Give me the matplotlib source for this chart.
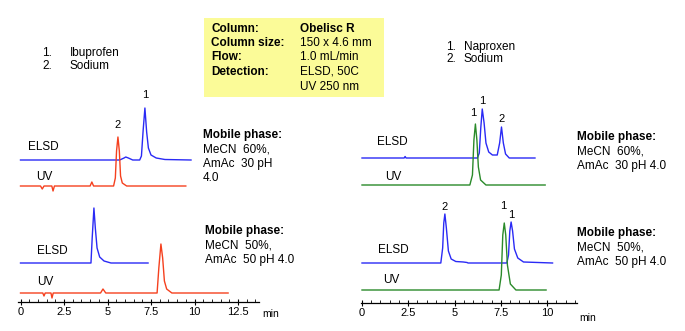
import matplotlib
matplotlib.use("Agg")
import matplotlib.pyplot as plt
from matplotlib.patches import Rectangle

plt.rcParams['font.family'] = ['Liberation Sans', 'DejaVu Sans']

W, H = 685, 331

# traces: time (min) and signal height (px above own baseline)
# ---- Ibuprofen, MeCN 60%
ibu60_elsd_t = [0, 5.7, 5.95, 6.05, 6.2, 6.45, 6.85, 6.95, 7.05, 7.15, 7.25, 7.35, 7.5, 7.8, 8.3, 9.8]
ibu60_elsd_y = [0, 0, 2, 3, 2, 0, 0, 4, 30, 52, 28, 12, 5, 2, 0.5, 0]
ibu60_uv_t = [0, 1.15, 1.25, 1.35, 1.8, 1.87, 1.95, 4.0, 4.1, 4.2, 5.35, 5.45, 5.52, 5.6, 5.68, 5.75, 5.85, 6.1, 9.5]
ibu60_uv_y = [0, 0, -3, 0, 0, -5, 0, 0, 4, 0, 0, 8, 35, 49, 35, 10, 3, 0, 0]
# ---- Ibuprofen, MeCN 50%
ibu50_elsd_t = [0, 4.05, 4.12, 4.22, 4.3, 4.4, 4.55, 4.8, 5.2, 7.33]
ibu50_elsd_y = [0, 0, 25, 55, 35, 15, 6, 2, 0, 0]
ibu50_uv_t = [0, 1.28, 1.35, 1.42, 1.75, 1.81, 1.88, 4.6, 4.74, 4.9, 7.85, 7.95, 8.07, 8.17, 8.27, 8.4, 8.7, 11.93]
ibu50_uv_y = [0, 0, -3, 0, 0, -5, 0, 0, 4, 0, 0, 25, 49, 35, 12, 4, 0, 0]
# ---- Naproxen, MeCN 60%
nap60_elsd_t = [0, 2.28, 2.33, 2.38, 6.24, 6.34, 6.42, 6.50, 6.60, 6.70, 6.85, 7.05, 7.31, 7.44, 7.54, 7.64, 7.76, 7.96, 9.35]
nap60_elsd_y = [0, 0, 1.5, 0, 0, 5, 30, 49, 35, 15, 6, 3, 3, 15, 31, 15, 4, 0, 0]
nap60_uv_t = [0, 5.83, 5.97, 6.05, 6.13, 6.21, 6.29, 6.41, 6.70, 9.9]
nap60_uv_y = [0, 0, 10, 45, 61, 45, 18, 5, 0, 0]
# ---- Naproxen, MeCN 50%
nap50_elsd_t = [0, 4.26, 4.36, 4.42, 4.48, 4.56, 4.67, 4.82, 5.07, 5.48, 5.68, 5.73, 7.83, 7.92, 7.99, 8.06, 8.14, 8.24, 8.42, 8.73, 10.3]
nap50_elsd_y = [0, 0, 15, 40, 49, 35, 12, 4, 1.5, 1, 0.5, 0, 0, 8, 32, 41, 32, 14, 5, 1, 0]
nap50_uv_t = [0, 7.41, 7.53, 7.61, 7.69, 7.77, 7.86, 8.02, 8.32, 9.95]
nap50_uv_y = [0, 0, 15, 55, 67, 55, 25, 6, 0, 0]

# peak numbers (label, time, height)
ibu_peaks = [('2', 5.6, 177), ('1', 7.15, 207)]
nap_peaks = [('1', 5.99, 190), ('1', 6.50, 202), ('2', 7.54, 184),
             ('2', 4.48, 96), ('1', 7.66, 97), ('1', 8.09, 88)]

blue = '#2a2af5'
red = '#f5401e'
green = '#2a8a2a'


def px(x, y):
    return x / W, 1 - y / H


def make_axes(x0, x1, spine_y, top_y, zero_px, ppm, xmax_tick):
    ax = fig.add_axes([x0 / W, 1 - spine_y / H, (x1 - x0) / W, (spine_y - top_y) / H])
    ax.set_xlim((x0 - zero_px) / ppm, (x1 - zero_px) / ppm)
    ax.set_ylim(0, spine_y - top_y)
    for s in ['left', 'top', 'right']:
        ax.spines[s].set_visible(False)
    ax.spines['bottom'].set_linewidth(0.9)
    ax.set_yticks([])
    ticks = [i * 2.5 for i in range(int(xmax_tick / 2.5) + 1)]
    ax.set_xticks(ticks)
    ax.set_xticklabels(['%g' % t for t in ticks], fontsize=8)
    ax.set_xticks([i * 0.5 for i in range(int(ax.get_xlim()[1] / 0.5) + 1)], minor=True)
    ax.tick_params(axis='x', which='major', direction='inout', length=5, width=0.8, pad=1)
    ax.tick_params(axis='x', which='minor', direction='in', length=2.2, width=0.6)
    ax.patch.set_alpha(0)
    return ax


fig = plt.figure(figsize=(W / 100, H / 100), dpi=100)

# left panel: ibuprofen
axl = make_axes(18, 259, 302, 90, 20.5, 17.4, 12.5)
axl.plot(ibu60_elsd_t, [v + 142 for v in ibu60_elsd_y], color=blue, lw=1, clip_on=False)
axl.plot(ibu60_uv_t, [v + 116 for v in ibu60_uv_y], color=red, lw=1, clip_on=False)
axl.plot(ibu50_elsd_t, [v + 39 for v in ibu50_elsd_y], color=blue, lw=1, clip_on=False)
axl.plot(ibu50_uv_t, [v + 9 for v in ibu50_uv_y], color=red, lw=1, clip_on=False)
for lab, t, h in ibu_peaks:
    axl.text(t, h, lab, fontsize=8, ha='center', va='center', clip_on=False)

# right panel: naproxen
axr = make_axes(361, 577, 303, 90, 362, 18.5, 10)
axr.plot(nap60_elsd_t, [v + 145 for v in nap60_elsd_y], color=blue, lw=1, clip_on=False)
axr.plot(nap60_uv_t, [v + 118 for v in nap60_uv_y], color=green, lw=1, clip_on=False)
axr.plot(nap50_elsd_t, [v + 40 for v in nap50_elsd_y], color=blue, lw=1, clip_on=False)
axr.plot(nap50_uv_t, [v + 13 for v in nap50_uv_y], color=green, lw=1, clip_on=False)
for lab, t, h in nap_peaks:
    axr.text(t, h, lab, fontsize=8, ha='center', va='center', clip_on=False)

fs = 8.5
# min labels
fig.text(*px(262, 314), 'min', fontsize=7.5, va='center')
fig.text(*px(579, 318), 'min', fontsize=7.5, va='center')

# trace names
for x, y, s in [(28, 147, 'ELSD'), (36, 177, 'UV'), (37, 251, 'ELSD'), (37, 282, 'UV'),
                (377, 142, 'ELSD'), (385, 177, 'UV'), (378, 250, 'ELSD'), (383, 280, 'UV')]:
    fig.text(*px(x, y), s, fontsize=fs, va='center')

# compound lists
fig.text(*px(42, 53), '1.', fontsize=fs, va='center')
fig.text(*px(70, 53), 'Ibuprofen', fontsize=fs, va='center')
fig.text(*px(42, 66), '2.', fontsize=fs, va='center')
fig.text(*px(70, 66), 'Sodium', fontsize=fs, va='center')
fig.text(*px(446, 47), '1.', fontsize=fs, va='center')
fig.text(*px(464, 47), 'Naproxen', fontsize=fs, va='center')
fig.text(*px(446, 59), '2.', fontsize=fs, va='center')
fig.text(*px(464, 59), 'Sodium', fontsize=fs, va='center')

# mobile phase blocks
blocks = [(203, [135, 149, 164, 178], ['MeCN  60%,', 'AmAc  30 pH', '4.0']),
          (205, [231, 245, 260], ['MeCN  50%,', 'AmAc  50 pH 4.0']),
          (577, [137, 152, 166], ['MeCN  60%,', 'AmAc  30 pH 4.0']),
          (577, [233, 247, 262], ['MeCN  50%,', 'AmAc  50 pH 4.0'])]
for x, ys, lines in blocks:
    fig.text(*px(x, ys[0]), 'Mobile phase:', fontsize=fs, fontweight='bold', va='center')
    for y, s in zip(ys[1:], lines):
        fig.text(*px(x, y), s, fontsize=fs, va='center')

# conditions box
fig.patches.append(Rectangle(px(204, 97), 180 / W, 79 / H, transform=fig.transFigure,
                             facecolor='#fbfb98', edgecolor='none', zorder=0))
keys = ['Column:', 'Column size:', 'Flow:', 'Detection:']
vals = ['Obelisc R', '150 x 4.6 mm', '1.0 mL/min', 'ELSD, 50C', 'UV 250 nm']
rows = [29, 43, 57, 72, 87]
for y, k in zip(rows, keys):
    fig.text(*px(211, y), k, fontsize=fs, fontweight='bold', va='center')
for i, (y, v) in enumerate(zip(rows, vals)):
    fig.text(*px(300, y), v, fontsize=fs, va='center', fontweight='bold' if i == 0 else 'normal')

fig.savefig('out.png', dpi=100)
